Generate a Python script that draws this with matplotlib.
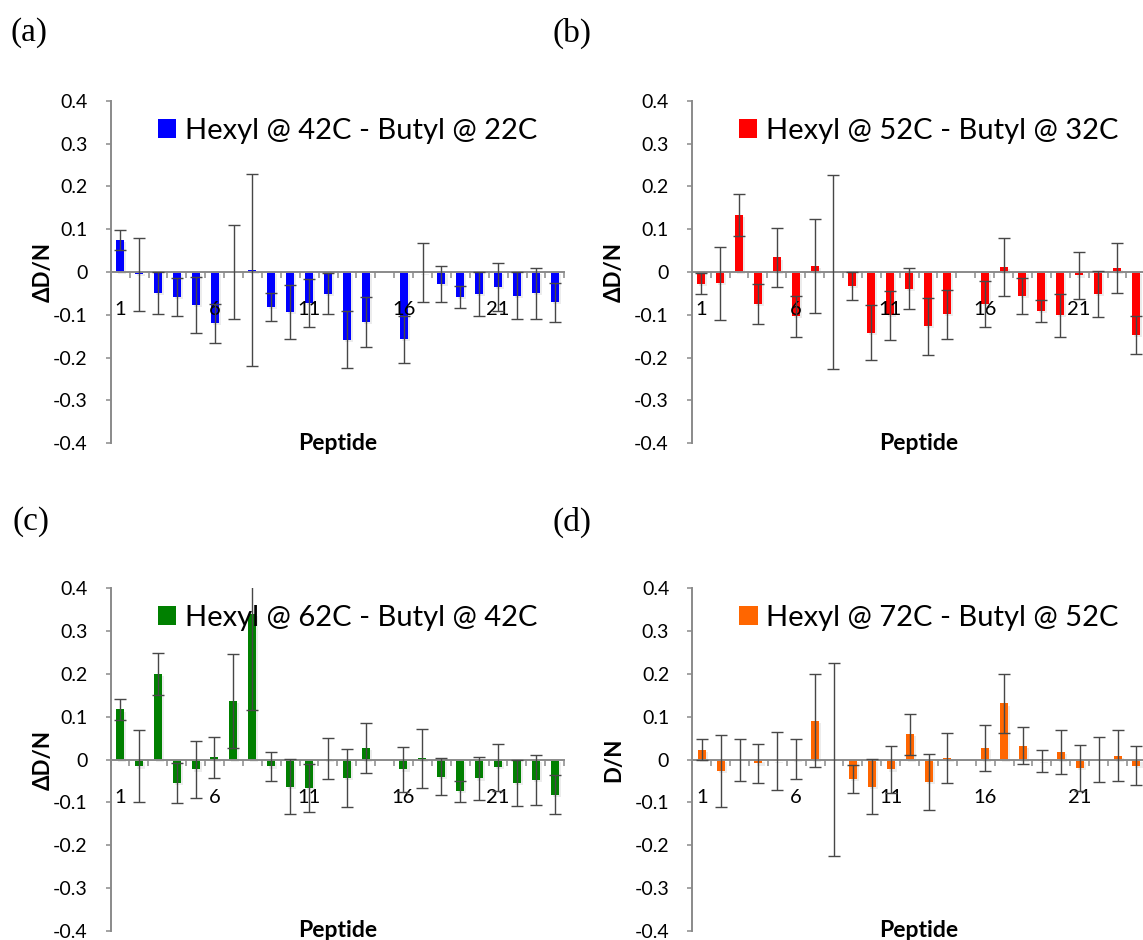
import numpy as np
import matplotlib
matplotlib.use('Agg')
import matplotlib.pyplot as plt
import matplotlib.patheffects as pe
from matplotlib.patches import Patch

plt.rcParams['font.family'] = ['Lato', 'DejaVu Sans']

nan = np.nan
peptides = np.arange(1, 25)

# deuterium uptake differences per peptide (peptide 15 not measured)
diff_a = [0.075, -0.005, -0.048, -0.058, -0.077, -0.12, 0.0, 0.005, -0.081, -0.093, -0.072, -0.051,
          -0.158, -0.117, nan, -0.157, -0.001, -0.028, -0.058, -0.051, -0.034, -0.055, -0.05, -0.071]
err_a = [0.024, 0.085, 0.049, 0.045, 0.066, 0.046, 0.11, 0.225, 0.033, 0.063, 0.056, 0.048,
         0.067, 0.058, nan, 0.055, 0.068, 0.042, 0.025, 0.051, 0.056, 0.055, 0.059, 0.045]

diff_b = [-0.027, -0.026, 0.134, -0.074, 0.034, -0.103, 0.014, 0.0, -0.032, -0.142, -0.101, -0.039,
          -0.127, -0.099, nan, -0.075, 0.012, -0.056, -0.091, -0.101, -0.008, -0.051, 0.009, -0.147]
err_b = [0.025, 0.085, 0.049, 0.047, 0.068, 0.048, 0.109, 0.226, 0.033, 0.064, 0.057, 0.048,
         0.067, 0.058, nan, 0.053, 0.068, 0.043, 0.025, 0.05, 0.055, 0.053, 0.059, 0.045]

diff_c = [0.117, -0.016, 0.2, -0.055, -0.023, 0.005, 0.137, 0.341, -0.016, -0.063, -0.066, 0.002,
          -0.043, 0.027, nan, -0.023, 0.003, -0.04, -0.074, -0.044, -0.018, -0.055, -0.048, -0.082]
err_c = [0.024, 0.084, 0.049, 0.047, 0.067, 0.047, 0.11, 0.225, 0.033, 0.064, 0.056, 0.048,
         0.067, 0.058, nan, 0.053, 0.069, 0.043, 0.025, 0.05, 0.055, 0.053, 0.059, 0.045]

diff_d = [0.023, -0.027, -0.001, -0.009, -0.003, 0.001, 0.091, 0.0, -0.045, -0.063, -0.023, 0.059,
          -0.052, 0.003, nan, 0.027, 0.131, 0.032, -0.003, 0.018, -0.019, 0.0, 0.009, -0.014]
err_d = [0.024, 0.084, 0.048, 0.046, 0.067, 0.047, 0.109, 0.226, 0.033, 0.064, 0.055, 0.048,
         0.066, 0.058, nan, 0.053, 0.069, 0.043, 0.026, 0.051, 0.054, 0.053, 0.059, 0.045]

series_labels = ['Hexyl @ 42C - Butyl @ 22C', 'Hexyl @ 52C - Butyl @ 32C',
                 'Hexyl @ 62C - Butyl @ 42C', 'Hexyl @ 72C - Butyl @ 52C']
bar_colors = ['#0000ff', '#ff0000', '#008000', '#ff6600']
panel_tags = ['(a)', '(b)', '(c)', '(d)']
y_titles = ['ΔD/N', 'ΔD/N', 'ΔD/N', 'D/N']
y_ticks = [-0.4, -0.3, -0.2, -0.1, 0.0, 0.1, 0.2, 0.3, 0.4]
y_ticklabels = ['-0.4', '-0.3', '-0.2', '-0.1', '0', '0.1', '0.2', '0.3', '0.4']
x_labelled = [1, 6, 11, 16, 21]

diffs = [diff_a, diff_b, diff_c, diff_d]
errs = [err_a, err_b, err_c, err_d]

W, H = 1143, 940
fig = plt.figure(figsize=(W / 100, H / 100), dpi=100)

# plot areas in pixels: left edge, top edge
boxes = [(110.7, 100.7), (691.7, 100.7), (110.5, 588.3), (692.3, 588.3)]
aw, ah = 453.6, 342.6
ylab_x = [43, 614, 43, 614]
tag_pos = [(10, 33), (553, 33), (12, 522), (553, 522)]
axis_grey = '#8a8a8a'

for i in range(4):
    left, top = boxes[i]
    ax = fig.add_axes([left / W, 1 - (top + ah) / H, aw / W, ah / H])
    ax.set_axisbelow(False)  # peptide numbers sit on top of the bars

    ax.bar(peptides, diffs[i], width=0.42, color=bar_colors[i], zorder=2,
           path_effects=[pe.SimplePatchShadow(offset=(1.5, -1.5), shadow_rgbFace='0.5', alpha=0.15),
                         pe.Normal()])
    ax.errorbar(peptides, diffs[i], yerr=errs[i], fmt='none', ecolor='#474747',
                elinewidth=1.0, capsize=4.3, capthick=1.0, zorder=3)

    ax.set_xlim(0.5, 24.5)
    ax.set_ylim(-0.4, 0.4)
    for s in ['top', 'right']:
        ax.spines[s].set_visible(False)
    ax.spines['bottom'].set_position(('data', 0))
    for s in ['left', 'bottom']:
        ax.spines[s].set_color(axis_grey)
        ax.spines[s].set_linewidth(1.4)

    ax.set_yticks(y_ticks)
    ax.set_yticklabels(y_ticklabels)
    ax.set_xticks(x_labelled)
    ax.set_xticklabels([str(p) for p in x_labelled])
    ax.set_xticks(np.arange(0.5, 25, 1), minor=True)
    ax.tick_params(axis='x', which='major', length=0, pad=21, labelsize=14.5)
    ax.tick_params(axis='x', which='minor', length=4.5, width=1.1, color=axis_grey, direction='out')
    ax.tick_params(axis='y', length=3.6, width=1.1, color=axis_grey, pad=13, labelsize=14)

    ax.legend([Patch(facecolor=bar_colors[i])], [series_labels[i]], loc='center left',
              bbox_to_anchor=(0.104, 0.913), frameon=False, fontsize=21,
              handlelength=0.62, handleheight=0.62, handletextpad=0.3,
              borderpad=0, borderaxespad=0)

    ax.text(0.5, 0.0, 'Peptide', transform=ax.transAxes, ha='center', va='center',
            fontsize=16.5, fontweight='bold')
    fig.text(ylab_x[i] / W, 1 - (top + ah / 2) / H, y_titles[i], rotation=90,
             ha='center', va='center', fontsize=16, fontweight='bold')
    fig.text(tag_pos[i][0] / W, 1 - tag_pos[i][1] / H, panel_tags[i], ha='left', va='center',
             fontsize=24, family='Liberation Serif')

fig.savefig('out.png', dpi=100)
